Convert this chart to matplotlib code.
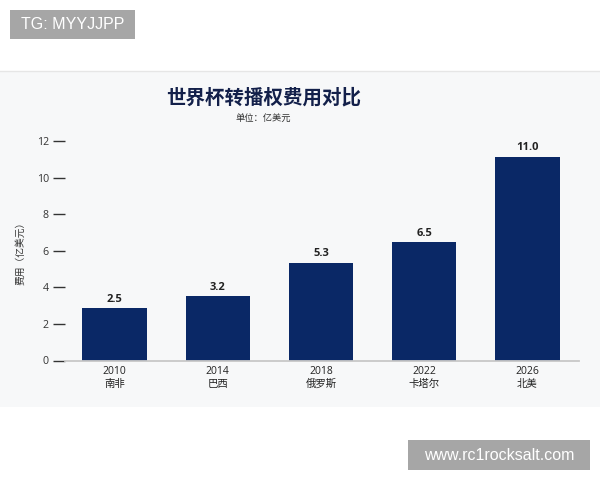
import matplotlib
matplotlib.use("Agg")
import matplotlib.pyplot as plt
from matplotlib.patches import Rectangle

# ---- data ----
years = ["2010", "2014", "2018", "2022", "2026"]
hosts = ["南非", "巴西", "俄罗斯", "卡塔尔", "北美"]
label_values = [2.5, 3.2, 5.3, 6.5, 11.0]      # printed value labels
bar_heights = [2.85, 3.5, 5.35, 6.47, 11.15]   # heights as drawn in the picture
y_ticks = [0, 2, 4, 6, 8, 10, 12]

title = "世界杯转播权费用对比"
subtitle = "单位：亿美元"
ylabel = "费用（亿美元）"

CJK = ["Noto Sans CJK SC", "DejaVu Sans"]
LAT = ["Open Sans", "Noto Sans CJK SC", "DejaVu Sans"]
plt.rcParams["font.family"] = LAT

fig = plt.figure(figsize=(6, 4.8), dpi=100)
fig.patch.set_facecolor("white")

# chart panel background
fig.patches.append(Rectangle((0, 1 - 407 / 480), 1, (407 - 71) / 480,
                             transform=fig.transFigure, facecolor="#f7f8f9",
                             edgecolor="none", zorder=-10))
fig.add_artist(plt.Line2D([0, 1], [1 - 71 / 480] * 2, transform=fig.transFigure,
                          color="#e6e6e6", lw=1, zorder=-9))

ax = fig.add_axes([65 / 600, 1 - 360.5 / 480, (579 - 65) / 600, 228.6 / 480])
ax.set_facecolor("none")
ax.set_zorder(1)

x = list(range(len(years)))
ax.bar(x, bar_heights, width=0.625, color="#0a2866", zorder=2)
for xi, h, v in zip(x, bar_heights, label_values):
    ax.text(xi, h + 0.2, f"{v:.1f}", ha="center", va="bottom",
            fontsize=8, fontweight="bold", color="#222222", family=LAT)

ax.set_xlim(-0.48, 4.5)
ax.set_ylim(0, 12.5)
ax.set_yticks(y_ticks)
ax.set_yticklabels([str(t) for t in y_ticks], fontsize=7.7, color="#333333")
ax.set_xticks(x)
ax.set_xticklabels([f"{y}\n{h}" for y, h in zip(years, hosts)], fontsize=7.5,
                   color="#222222", linespacing=1.25)
ax.tick_params(axis="y", length=8.6, width=1.0, color="#333333", pad=3)
ax.tick_params(axis="x", length=0, pad=4)

for s in ["top", "right", "left"]:
    ax.spines[s].set_visible(False)
ax.spines["bottom"].set_color("#c8c8c8")
ax.spines["bottom"].set_linewidth(1.3)

fig.text(264 / 600, 1 - 98 / 480, title, ha="center", va="center",
         fontsize=14, fontweight="bold", color="#13204a", family=CJK)
fig.text(263 / 600, 1 - 119.5 / 480, subtitle, ha="center", va="center",
         fontsize=6.7, color="#333333", family=CJK)
fig.text(20 / 600, 1 - 251 / 480, ylabel, ha="center", va="center",
         rotation=90, fontsize=7, color="#333333", family=CJK)

# watermark boxes
fig.patches.append(Rectangle((10 / 600, 1 - 39 / 480), 125 / 600, 29 / 480,
                             transform=fig.transFigure, facecolor="#a6a6a6",
                             edgecolor="none", zorder=5))
fig.text(72.5 / 600, 1 - 24.5 / 480, "TG: MYYJJPP", ha="center", va="center",
         fontsize=11.5, color="white", family=["Liberation Sans"], zorder=6)
fig.patches.append(Rectangle((408 / 600, 1 - 470 / 480), 182 / 600, 30 / 480,
                             transform=fig.transFigure, facecolor="#a6a6a6",
                             edgecolor="none", zorder=5))
fig.text(499 / 600, 1 - 455 / 480, "www.rc1rocksalt.com", ha="center", va="center",
         fontsize=11.5, color="white", family=["Liberation Sans"], zorder=6)

fig.savefig("out.png", dpi=100)
